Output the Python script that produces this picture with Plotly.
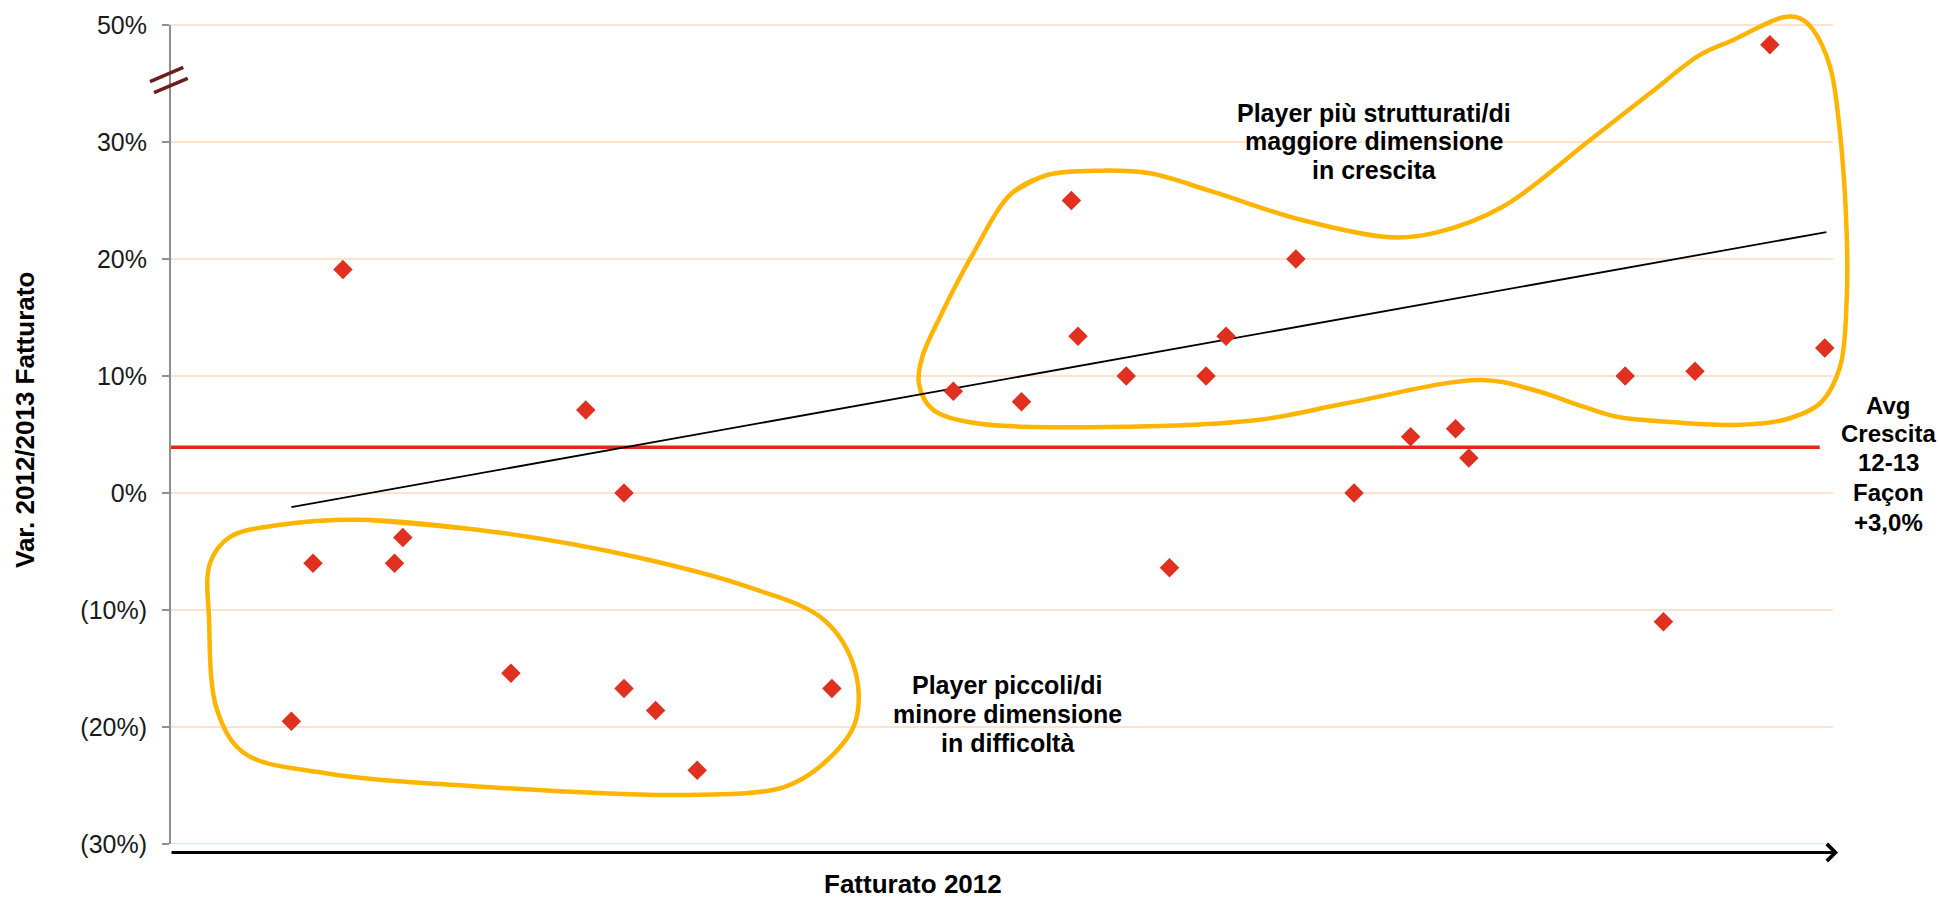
import plotly.graph_objects as go

# ---------------- data ----------------
# x: position along "Fatturato 2012" axis (relative scale 0-100, no numeric labels)
player_x = [7.3, 8.6, 10.4, 13.5, 14.0, 20.5, 25.0, 27.3, 27.3, 29.2, 31.7, 39.8,
            47.1, 51.2, 54.2, 54.6, 57.5, 60.1, 62.3, 63.5, 67.7, 71.2, 74.6, 77.3,
            78.1, 87.5, 89.8, 91.7, 96.2, 99.5]
# y: Var. 2012/2013 Fatturato (%)
player_y = [-19.5, -6.0, 19.1, -6.0, -3.8, -15.4, 7.1, 0.0, -16.7, -18.6, -23.7, -16.7,
            8.7, 7.8, 25.0, 13.4, 10.0, -6.4, 10.0, 13.4, 20.0, 0.0, 4.8, 5.5,
            3.0, 10.0, -11.0, 10.4, 46.6, 12.4]

avg_x = [0, 99.2]
avg_y = [3.9, 3.9]

trend_x = [7.3, 99.6]
trend_y = [-1.2, 22.3]

tick_vals = [-30, -20, -10, 0, 10, 20, 30, 40]
tick_text = ["(30%)", "(20%)", "(10%)", "0%", "10%", "20%", "30%", "50%"]
grid_vals = [-30, -20, -10, 0, 10, 20, 30, 40]

label_high = ["Player più strutturati/di", "maggiore dimensione", "in crescita"]
label_low = ["Player piccoli/di", "minore dimensione", "in difficoltà"]
label_avg = ["Avg", "Crescita", "12-13", "Façon", "+3,0%"]

# outlines of highlighted groups (axis-position units)
blob_low_x = [11.97, 19.99, 28.02, 34.76, 39.33, 41.19, 41.19, 39.33, 36.92, 30.73,
              19.96, 9.26, 4.45, 2.83, 2.35, 2.41, 3.61, 6.55]
blob_low_y = [-2.31, -3.42, -5.47, -8.03, -10.85, -15.13, -19.66, -23.08, -25.13, -25.81,
              -25.21, -23.93, -22.22, -18.55, -10.85, -5.98, -3.76, -2.74]

blob_high_x = [50.61, 52.75, 55.98, 58.93, 62.69, 68.06, 73.42, 76.11, 80.14, 85.39,
               88.99, 92.00, 94.00, 97.01, 98.02, 98.81, 99.82, 100.42, 100.82, 100.82,
               100.42, 99.22, 97.01, 94.00, 90.00, 86.99, 84.98, 82.01, 78.80, 70.74,
               65.37, 54.64, 47.93, 45.78, 45.03, 45.24, 46.31, 48.19]
blob_high_y = [25.62, 27.18, 27.55, 27.32, 25.75, 23.33, 21.85, 22.25, 24.47, 30.17,
               34.16, 37.44, 38.72, 40.66, 40.57, 39.57, 36.44, 30.74, 22.20, 16.50,
               10.79, 7.67, 6.24, 5.81, 6.09, 6.52, 7.38, 8.80, 9.66, 7.67,
               6.24, 5.62, 6.09, 7.24, 9.38, 11.65, 15.07, 20.20]


def axis_pos(v):
    # broken axis: values above 30% are compressed (50% sits where 40% would be)
    return v if v <= 30 else 30 + (v - 30) / 2.0


FONT = "Liberation Sans, Arial, sans-serif"
ORANGE = "#FFB400"
RED = "#DF3020"

# layout geometry (pixels)
W, H = 1940, 900
ML, MR, MT, MB = 170, 85, 10, 56
PW, PH = W - ML - MR, H - MT - MB
X_RANGE = [0, 101.32]
Y_RANGE = [-30, 41.28]


def px_to_paper(px, py):
    return (px - ML) / PW, (H - MB - py) / PH


fig = go.Figure()


def closed(xs, ys):
    return xs + xs[:2], ys + ys[:2]


bx, by = closed(blob_low_x, blob_low_y)
fig.add_trace(go.Scatter(x=bx, y=by, mode="lines",
                         line=dict(color=ORANGE, width=4.5, shape="spline", smoothing=1.0),
                         hoverinfo="skip", showlegend=False))
bx, by = closed(blob_high_x, blob_high_y)
fig.add_trace(go.Scatter(x=bx, y=by, mode="lines",
                         line=dict(color=ORANGE, width=4.5, shape="spline", smoothing=1.0),
                         hoverinfo="skip", showlegend=False))

fig.add_trace(go.Scatter(x=avg_x, y=avg_y, mode="lines",
                         line=dict(color="#E2281A", width=3.5),
                         hoverinfo="skip", showlegend=False))
fig.add_trace(go.Scatter(x=trend_x, y=trend_y, mode="lines",
                         line=dict(color="black", width=1.8),
                         hoverinfo="skip", showlegend=False))
fig.add_trace(go.Scatter(x=player_x, y=[axis_pos(v) for v in player_y], mode="markers",
                         marker=dict(symbol="diamond", size=15, color=RED,
                                     line=dict(width=0)),
                         showlegend=False))

shapes = []
for g in grid_vals:
    shapes.append(dict(type="line", xref="x", yref="y", x0=0, x1=100, y0=g, y1=g,
                       line=dict(color="#FDE3CE", width=2), layer="below"))
# white boxes behind the group labels (interrupt the gridlines)
for (cx, cy, hw, hh) in [(1375, 142, 133, 44), (1007, 714, 119, 45)]:
    x0, y0 = px_to_paper(cx - hw, cy + hh)
    x1, y1 = px_to_paper(cx + hw, cy - hh)
    shapes.append(dict(type="rect", xref="paper", yref="paper", x0=x0, y0=y0, x1=x1, y1=y1,
                       fillcolor="white", line=dict(width=0), layer="below"))
# y axis line
shapes.append(dict(type="line", xref="paper", yref="y", x0=0, x1=0, y0=-30, y1=40,
                   line=dict(color="#8F8F8F", width=2)))
# axis break marks
for (a, b, c, d) in [(150, 81.7, 183.3, 67.3), (154, 92.7, 187.7, 78.3)]:
    x0, y0 = px_to_paper(a, b)
    x1, y1 = px_to_paper(c, d)
    shapes.append(dict(type="line", xref="paper", yref="paper", x0=x0, y0=y0, x1=x1, y1=y1,
                       line=dict(color="#6B1E1E", width=3.5)))

annotations = []
# x axis arrow
ax_end = px_to_paper(1838, 852.5)
annotations.append(dict(x=ax_end[0], y=ax_end[1], xref="paper", yref="paper",
                        ax=-(1838 - ML), ay=0, axref="pixel", ayref="pixel",
                        text="", showarrow=True, arrowhead=4,
                        arrowsize=1.1, arrowwidth=3, arrowcolor="black", standoff=0,
                        startstandoff=0))
# axis titles
tx, ty = px_to_paper(25, 420)
annotations.append(dict(x=tx, y=ty, xref="paper", yref="paper", text="<b>Var. 2012/2013 Fatturato</b>",
                        textangle=-90, showarrow=False, xanchor="center", yanchor="middle",
                        font=dict(size=26, color="black", family=FONT)))
tx, ty = px_to_paper(913, 884)
annotations.append(dict(x=tx, y=ty, xref="paper", yref="paper", text="<b>Fatturato 2012</b>",
                        showarrow=False, xanchor="center", yanchor="middle",
                        font=dict(size=26, color="black", family=FONT)))


def add_lines(lines, cx, ys, size):
    for txt, yy in zip(lines, ys):
        px_, py_ = px_to_paper(cx, yy)
        annotations.append(dict(x=px_, y=py_, xref="paper", yref="paper",
                                text="<b>" + txt + "</b>", showarrow=False,
                                xanchor="center", yanchor="middle",
                                font=dict(size=size, color="black", family=FONT)))


add_lines(label_avg, 1888, [405, 434, 463, 493, 522], 24)
add_lines(label_high, 1374, [113, 141, 170], 25)
add_lines(label_low, 1007, [685, 714, 743], 25)

fig.update_layout(
    width=W, height=H,
    margin=dict(l=ML, r=MR, t=MT, b=MB, pad=0),
    paper_bgcolor="white", plot_bgcolor="white",
    font=dict(family=FONT, color="#1a1a1a"),
    shapes=shapes, annotations=annotations,
    xaxis=dict(range=X_RANGE, showgrid=False, zeroline=False, showline=False,
               showticklabels=False, ticks="", fixedrange=True),
    yaxis=dict(range=Y_RANGE, showgrid=False, zeroline=False, showline=False,
               tickmode="array", tickvals=tick_vals, ticktext=tick_text,
               ticks="outside", ticklen=7, tickwidth=2, tickcolor="#8F8F8F",
               ticklabelstandoff=10,
               tickfont=dict(size=25, color="#1a1a1a", family=FONT), fixedrange=True),
)

fig.write_html("out.html")
